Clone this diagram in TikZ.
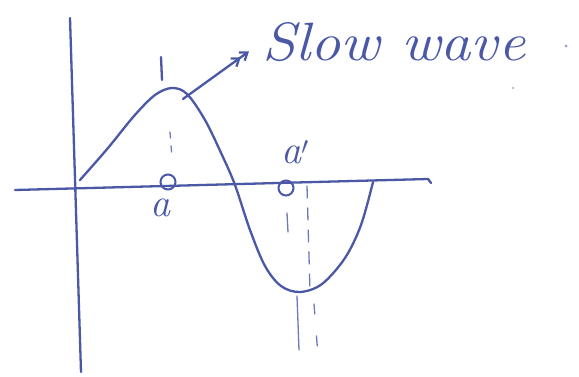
\documentclass[tikz,border=0pt]{standalone}
\usetikzlibrary{arrows.meta}
\definecolor{pen}{HTML}{4A58A6}
\begin{document}
\begin{tikzpicture}[x=1pt,y=-1pt,
  ink/.style={draw=pen,line width=2.3pt,line cap=round,line join=round},
  thin ink/.style={draw=pen!80,line width=1.3pt,line cap=round},
  lbl/.style={text=pen,font=\itshape\fontsize{40}{42}\selectfont,inner sep=0pt},
  pt/.style={circle,draw=pen,line width=2pt,minimum size=15pt,inner sep=0pt}]
\useasboundingbox[fill=white] (0,0) rectangle (579,377);
% axes
\coordinate (vt) at (70,18); \coordinate (vb) at (81,372);
\coordinate (hl) at (15,190); \coordinate (hr) at (428,179);
\draw[ink] (vt) -- (vb);
\draw[ink] (hl) -- (hr) -- (431,183);
% wave
\draw[ink] plot[smooth,tension=0.55] coordinates {(80,180) (108,148) (134,116) (155,95) (172,88) (187,94) (205,120) (222,155) (235,185) (250,230) (265,266) (281,286) (300,292) (322,284) (345,258) (361,225) (373,182)};
% peak tick
\draw[ink] (161,57) -- (162,80);
% points
\node[pt] (a0) at (168,182) {};
\node[pt] (a1) at (286,188) {};
\node[lbl] (la) at (160,208) {a};
\node[lbl] (la1) at (295,152) {a$'$};
% dashed marks
\coordinate (d1) at (170,132); \coordinate (d2) at (172,158);
\draw[thin ink,dash pattern=on 6pt off 8pt] (d1) -- (d2);
\draw[thin ink,dash pattern=on 12pt off 10pt] (307,186) -- (310,292);
\draw[thin ink] (297,296) -- (299,350);
\draw[thin ink,dash pattern=on 10pt off 22pt] (314,304) -- (318,356);
\draw[thin ink] (287,213) -- (288,232);
% arrow and label
\coordinate (as) at (183,99);
\node[text=pen,font=\itshape\fontsize{54}{56}\selectfont,inner sep=0pt,anchor=west] (sw) at (262,42) {\scalebox{1.12}[1]{Slow wave}};
\draw[ink,shorten >=16pt,-{Straight Barb[length=7pt,width=10pt]Straight Barb[length=7pt,width=10pt]}] (as) -- (sw.west);
% small dots
\fill[pen!60] (566,46) circle (1.5pt);
\fill[pen!60] (513,88) circle (1pt);
\end{tikzpicture}
\end{document}
